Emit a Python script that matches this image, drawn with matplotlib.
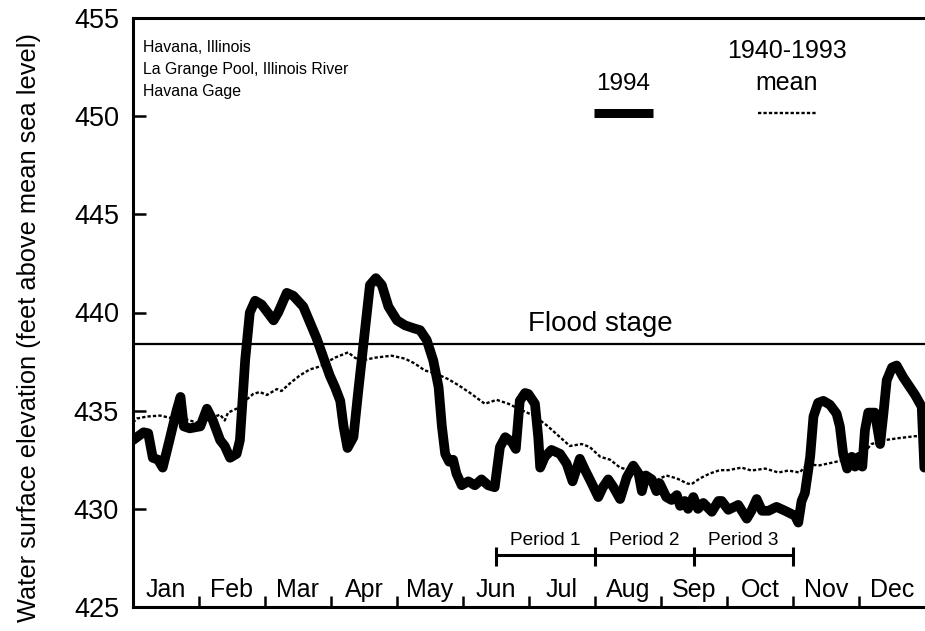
import matplotlib
matplotlib.use("Agg")
import matplotlib.pyplot as plt

plt.rcParams["font.family"] = ["Liberation Sans", "DejaVu Sans"]

# Month axis: one unit per month
months = ["Jan", "Feb", "Mar", "Apr", "May", "Jun",
          "Jul", "Aug", "Sep", "Oct", "Nov", "Dec"]

# 1994 water surface elevation (x in months from 1 Jan)
x_1994 = [0.0, 0.16, 0.23, 0.30, 0.38, 0.45, 0.56, 0.66, 0.72, 0.77, 0.86, 1.02,
          1.12, 1.21, 1.32, 1.39, 1.47, 1.57, 1.62, 1.70, 1.77, 1.85, 1.95, 2.13,
          2.20, 2.33, 2.43, 2.58, 2.78, 2.98, 3.06, 3.14, 3.19, 3.25, 3.34, 3.41,
          3.52, 3.59, 3.68, 3.77, 3.87, 4.00, 4.12, 4.25, 4.35, 4.45, 4.55, 4.63,
          4.68, 4.73, 4.79, 4.85, 4.90, 4.98, 5.08, 5.18, 5.28, 5.38, 5.48, 5.56,
          5.64, 5.74, 5.80, 5.86, 5.94, 5.99, 6.09, 6.14, 6.17, 6.24, 6.34, 6.47,
          6.57, 6.66, 6.77, 6.85, 6.95, 7.05, 7.12, 7.20, 7.28, 7.38, 7.48, 7.58,
          7.66, 7.71, 7.77, 7.86, 7.93, 7.98, 8.08, 8.16, 8.24, 8.29, 8.36, 8.41,
          8.49, 8.56, 8.64, 8.77, 8.87, 8.92, 9.02, 9.17, 9.30, 9.37, 9.45, 9.53,
          9.63, 9.75, 9.88, 10.03, 10.08, 10.13, 10.18, 10.26, 10.31, 10.38, 10.46,
          10.56, 10.66, 10.71, 10.76, 10.82, 10.89, 10.94, 11.00, 11.05, 11.09,
          11.14, 11.24, 11.32, 11.37, 11.42, 11.50, 11.57, 11.67, 11.75, 11.85,
          11.95, 11.99]
y_1994 = [433.5, 433.9, 433.85, 432.6, 432.5, 432.1, 433.6, 435.0, 435.7, 434.2, 434.1, 434.2,
          435.1, 434.5, 433.5, 433.2, 432.6, 432.8, 433.5, 437.6, 440.0, 440.6, 440.4, 439.6,
          440.0, 441.0, 440.85, 440.3, 438.7, 436.8, 436.2, 435.5, 434.2, 433.1, 433.65, 435.9,
          439.25, 441.4, 441.75, 441.4, 440.3, 439.6, 439.35, 439.2, 439.1, 438.6, 437.55, 436.2,
          434.2, 432.8, 432.4, 432.5, 431.8, 431.2, 431.4, 431.2, 431.5, 431.2, 431.1, 433.15,
          433.65, 433.4, 433.05, 435.5, 435.9, 435.85, 435.35, 433.65, 432.1, 432.65, 433.0, 432.8,
          432.3, 431.4, 432.55, 431.97, 431.3, 430.6, 431.1, 431.5, 431.1, 430.5, 431.6, 432.2,
          431.8, 430.9, 431.7, 431.5, 430.9, 431.3, 430.6, 430.45, 430.7, 430.15, 430.4, 430.0,
          430.6, 430.0, 430.3, 429.85, 430.4, 430.4, 429.95, 430.2, 429.5, 429.9, 430.5, 429.9,
          429.9, 430.1, 429.9, 429.65, 429.3, 430.4, 430.8, 432.65, 434.7, 435.4, 435.5,
          435.3, 434.85, 434.2, 432.8, 432.05, 432.65, 432.15, 432.65, 432.15, 434.0,
          434.9, 434.9, 433.3, 434.85, 436.55, 437.2, 437.3, 436.7, 436.3, 435.8,
          435.2, 432.1]

# 1940-1993 mean water surface elevation
x_mean = [0.0, 0.06, 0.21, 0.41, 0.61, 0.81, 0.96, 1.17, 1.32, 1.39, 1.44, 1.57,
          1.70, 1.82, 1.92, 2.03, 2.18, 2.25, 2.38, 2.53, 2.68, 2.83, 2.98, 3.06,
          3.26, 3.36, 3.46, 3.67, 3.92, 4.12, 4.27, 4.42, 4.58, 4.78, 4.93, 5.13,
          5.33, 5.51, 5.69, 5.84, 6.07, 6.27, 6.47, 6.62, 6.80, 6.92, 7.08, 7.23,
          7.38, 7.53, 7.73, 7.93, 8.08, 8.24, 8.39, 8.46, 8.59, 8.74, 8.89, 9.02,
          9.22, 9.37, 9.58, 9.78, 9.93, 10.10, 10.23, 10.38, 10.59, 10.79, 10.99,
          11.19, 11.39, 11.60, 11.85, 12.0]
y_mean = [434.4, 434.6, 434.7, 434.75, 434.6, 434.55, 434.4, 434.6, 434.8, 434.5, 434.9, 435.1,
          435.5, 435.85, 435.95, 435.8, 436.1, 436.0, 436.4, 436.8, 437.1, 437.25, 437.55, 437.7,
          437.97, 437.7, 437.55, 437.7, 437.8, 437.65, 437.4, 437.05, 436.9, 436.6, 436.3, 435.85,
          435.35, 435.55, 435.35, 435.1, 434.75, 434.25, 433.65, 433.2, 433.3, 433.15, 432.65, 432.5,
          432.1, 431.97, 431.6, 431.45, 431.7, 431.55, 431.3, 431.25, 431.55, 431.8, 431.97, 431.97,
          432.1, 431.95, 432.05, 431.85, 431.95, 431.85, 432.3, 432.2, 432.35, 432.5, 432.55,
          433.3, 433.5, 433.6, 433.7, 433.7]

flood_stage = 438.4
y_ticks = [425, 430, 435, 440, 445, 450, 455]

# Study periods (month positions of the bracket ends)
period_names = ["Period 1", "Period 2", "Period 3"]
period_edges = [5.5, 7.0, 8.5, 10.0]

fig = plt.figure(figsize=(9.25, 6.31), dpi=100)
ax = fig.add_axes([133 / 925, 24 / 631, 792 / 925, 589 / 631])
ax.set_xlim(0, 12)
ax.set_ylim(425, 455)

ax.plot(x_mean, y_mean, color="black", lw=1.7, linestyle=(0, (1.4, 0.9)))
ax.plot(x_1994, y_1994, color="black", lw=7.0,
        solid_joinstyle="round", solid_capstyle="round")
ax.axhline(flood_stage, color="black", lw=1.6)
ax.text(7.08, 439.4, "Flood stage", fontsize=20, ha="center", va="center")

# Axes frame and ticks
for side in ["left", "top", "bottom"]:
    ax.spines[side].set_linewidth(2.2)
ax.spines["right"].set_visible(False)
ax.set_yticks(y_ticks)
ax.tick_params(axis="y", direction="in", length=9.5, width=1.8,
               labelsize=19.5, pad=10)
ax.set_xticks(range(1, 12))
ax.set_xticklabels([])
ax.tick_params(axis="x", direction="in", length=8, width=1.8)

for i, m in enumerate(months):
    ax.text(i + 0.5, 425.85, m, fontsize=18, ha="center", va="center")

# Period brackets
bracket_y = 427.64
ax.plot([period_edges[0], period_edges[-1]], [bracket_y, bracket_y],
        color="black", lw=2.2, solid_capstyle="butt")
for e in period_edges:
    ax.plot([e, e], [427.1, 428.05], color="black", lw=2.2, solid_capstyle="butt")
for i, name in enumerate(period_names):
    ax.text((period_edges[i] + period_edges[i + 1]) / 2, 428.4, name,
            fontsize=13.7, ha="center", va="center")

# Site description
site_lines = ["Havana, Illinois", "La Grange Pool, Illinois River", "Havana Gage"]
for i, line in enumerate(site_lines):
    ax.text(0.15, 453.5 - i * 1.12, line, fontsize=11.4, ha="left", va="center")

# Legend
ax.text(7.42, 451.64, "1994", fontsize=17.5, ha="center", va="center")
ax.plot([6.985, 7.88], [450.17, 450.17], color="black", lw=6.5, solid_capstyle="butt")
ax.text(9.91, 453.3, "1940-1993", fontsize=18, ha="center", va="center")
ax.text(9.91, 451.69, "mean", fontsize=18, ha="center", va="center")
ax.plot([9.47, 10.35], [450.17, 450.17], color="black", lw=1.7,
        linestyle=(0, (1.4, 0.9)))

fig.text(29 / 925, 1 - 33 / 631, "Water surface elevation (feet above mean sea level)",
         rotation=90, fontsize=18.3, ha="center", va="top")

fig.savefig("out.png", dpi=100)
